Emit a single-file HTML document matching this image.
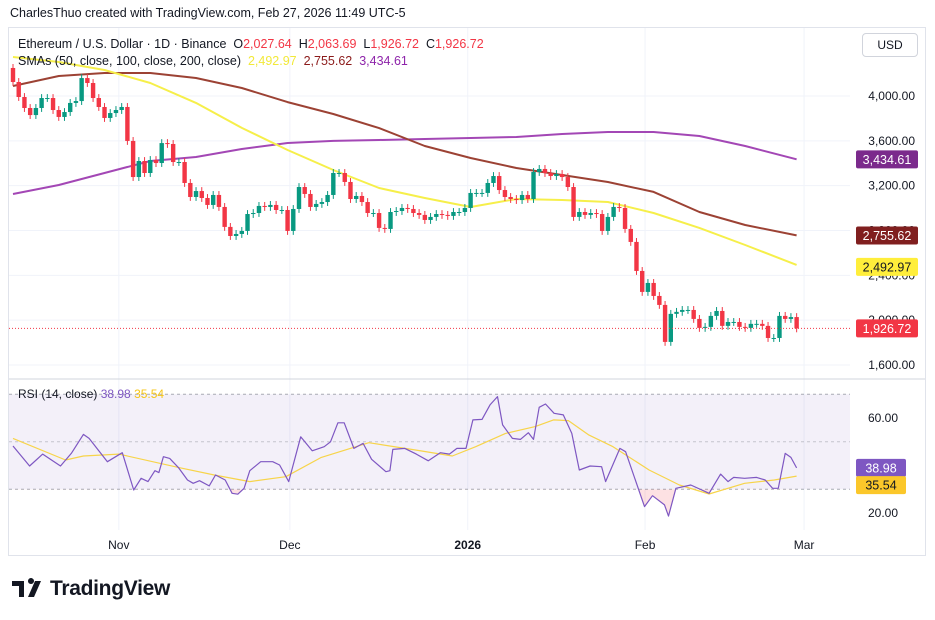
<!DOCTYPE html>
<html><head><meta charset="utf-8">
<style>
body{margin:0;background:#fff;font-family:"Liberation Sans",sans-serif;}
#wrap{position:relative;width:935px;height:620px;overflow:hidden;background:#fff}
.t{position:absolute;white-space:nowrap;font-size:12px;color:#131722}
</style></head><body>
<div id="wrap">
<div class="t" style="left:10px;top:6px;font-size:12.5px">CharlesThuo created with TradingView.com, Feb 27, 2026 11:49 UTC-5</div>
<svg id="svg" width="935" height="620" style="position:absolute;left:0;top:0"></svg>
<div class="t" style="left:18px;top:37px;font-size:12.5px">Ethereum / U.S. Dollar · 1D · Binance&nbsp; O<span style="color:#f23645">2,027.64</span>&nbsp; H<span style="color:#f23645">2,063.69</span>&nbsp; L<span style="color:#f23645">1,926.72</span>&nbsp; C<span style="color:#f23645">1,926.72</span></div>
<div class="t" style="left:18px;top:54px;font-size:12.5px">SMAs (50, close, 100, close, 200, close)&nbsp; <span style="color:#f2e93a">2,492.97</span>&nbsp; <span style="color:#8b1a1a">2,755.62</span>&nbsp; <span style="color:#8e24aa">3,434.61</span></div>
<div class="t" style="left:18px;top:387px;font-size:12px">RSI (14, close) <span style="color:#7e57c2">38.98</span> <span style="color:#f5c518">35.54</span></div>
<div class="t" style="left:862px;top:33px;width:54px;height:22px;border:1px solid #d1d4dc;border-radius:4px;line-height:22px;text-align:center;font-size:12px">USD</div>
<div style="position:absolute;left:12px;top:578px;">
<svg width="36" height="22" style="position:absolute;left:0;top:0"><path d="M0 3h12v16H7V8H0z M16 3a3 3 0 1 1 0 .1z M23 3h6l-7 16h-6z" fill="#131722"/></svg>
<div class="t" style="left:38px;top:-1px;font-size:21px;font-weight:bold;letter-spacing:-0.3px">TradingView</div>
</div>
</div>
<script>
const closes=[4125,3991,3893,3830,3893,3982,3982,3875,3813,3857,3938,3955,4160,4116,3982,3902,3804,3848,3875,3902,3599,3277,3420,3313,3429,3402,3580,3572,3411,3411,3224,3099,3152,
3090,3028,3117,3010,2832,2751,2769,2796,2947,2956,3019,3010,3028,2983,2983,2796,2992,3188,3126,3010,3037,3054,3117,3313,3313,3233,3081,3108,3054,2956,2956,2823,2814,2965,2974,3001,
2992,2956,2939,2894,2921,2947,2939,2930,2965,2965,3001,3135,3135,3135,3224,3286,3161,3099,3081,3072,3117,3081,3322,3349,3313,3286,3304,3277,3188,2921,2965,2939,2956,2947,2796,2921,3010,3001,2814,2698,2439,2252,2332,2216,2136,1806,2056,2074,2091,2091,2011,1931,1940,2038,2082,1949,1984,1984,1940,1931,1967,1967,1949,1841,1841,2038,2011,2027.64];
const lastClose=1926.72;
const firstOpen=4250;
const smaIdx=[0,8,16,24,32,40,48,56,64,72,80,88,96,104,112,120,128,137];
const sma50=[4348,4303,4232,4116,3938,3715,3518,3340,3179,3090,3010,3081,3072,3054,2956,2823,2671,2493];
const sma100=[4089,4178,4205,4205,4161,4071,3946,3839,3714,3554,3447,3358,3295,3233,3144,2965,2849,2756];
const sma200=[3126,3206,3313,3420,3456,3527,3581,3599,3607,3616,3625,3634,3661,3679,3679,3643,3554,3435];
const rsiIdx=[0,2.9,5.2,8.3,10.2,12.3,13.3,16.5,19.1,21.1,22.4,23.6,24.8,25.5,26.3,27.4,28.9,30.5,31.5,32.6,34.3,35.4,37.1,38.3,39.3,40.4,41.4,43.3,45.4,46.6,48.2,50.3,52.3,54.4,55.5,56.8,57.9,59.6,61.2,62.7,65.2,65.9,66.4,68.5,70.5,72.6,74.7,76.3,77.6,79.2,80.4,82.0,83.4,84.7,85.6,87.3,88.7,90.1,91.0,92.0,93.1,94.6,96.2,97.7,99.0,100.9,102.9,103.6,106.1,107.1,110.4,111.8,113.9,114.6,115.9,118.5,121.7,123.7,125.0,126.0,127.9,130.0,131.5,132.8,133.8,135,136,137];
const rsiVal=[48.2,39.8,44.8,39.8,45.1,53.1,51.4,41.6,45.4,29.7,34.6,33.2,37.8,37.0,43.7,43.0,39.2,33.9,32.5,33.6,31.4,36.0,33.9,28.3,27.9,30.4,37.8,41.6,41.6,40.2,33.2,52.1,46.2,47.9,50.0,58.0,58.0,47.2,49.3,42.6,37.4,37.8,46.8,47.2,44.8,42.0,45.4,44.8,47.2,47.2,59.2,59.4,65.5,69.0,57.1,51.4,51.0,53.8,51.0,64.5,65.9,62.0,61.3,53.5,38.1,39.8,39.5,33.2,47.2,45.8,22.7,27.3,23.4,18.7,30.4,31.8,28.3,36.4,33.2,35.0,34.6,35.0,33.9,30.4,30.4,45.1,43.4,38.98];
const maIdx=[0,9.2,12.3,18.5,28.9,35.2,41.4,47.7,53.9,62.2,70.5,76.8,80.9,86.1,91.3,94.5,97.1,100.7,104.9,111.2,116.5,121.7,127.9,133.1,137];
const maVal=[51.4,42.3,44.0,44.8,39.2,36.0,33.2,35.3,43.4,49.6,46.5,44.0,47.9,53.5,56.4,59.2,58.9,52.8,47.9,38.1,31.8,28.0,32.5,33.9,35.54];
const priceTicks=[4000,3600,3200,2800,2400,2000,1600];
const rsiTicks=[60,20];
const monthLabels=["Nov","Dec","2026","Feb","Mar"];
const monthIdx=[18.5,48.4,79.5,110.5,138.3];

const X0=13,DX=5.72;
const x=i=>X0+i*DX;
const yP=p=>96+(4000-p)*0.11208;
const yR=v=>418+(60-v)*2.375;
const svg=document.getElementById('svg');
const NS='http://www.w3.org/2000/svg';
function mk(tag,attrs,parent){const e=document.createElementNS(NS,tag);for(const k in attrs)e.setAttribute(k,attrs[k]);(parent||svg).appendChild(e);return e;}
let panel=mk('rect',{x:8.5,y:27.5,width:917,height:528,fill:'none',stroke:'#e0e3eb'});


priceTicks.forEach(p=>{let g=mk('line',{x1:9,x2:850,y1:yP(p),y2:yP(p),stroke:'#f0f3fa'});

});
monthIdx.forEach(m=>{let g=mk('line',{x1:x(m),x2:x(m),y1:28,y2:530,stroke:'#f0f3fa'});

});
let sep=mk('line',{x1:9,x2:925,y1:379,y2:379,stroke:'#d1d4dc'});


let band=mk('rect',{x:9,y:yR(70),width:841,height:yR(30)-yR(70),fill:'#7e57c2','fill-opacity':0.09});


[70,50,30].forEach(v=>{let l=mk('line',{x1:9,x2:850,y1:yR(v),y2:yR(v),stroke:'#9598a1','stroke-dasharray':'3,3','stroke-opacity':v==50?0.5:0.8});

});
function line(idx,vals,ys,color,w,name){let d=idx.map((k,j)=>(j?'L':'M')+x(k).toFixed(1)+','+ys(vals[j]).toFixed(1)).join('');
let p=mk('path',{d:d,fill:'none',stroke:color,'stroke-width':w,'stroke-linejoin':'round'});

return d;}
line(smaIdx,sma200,yP,'#a347b5',2,'sma-200-line');
line(smaIdx,sma100,yP,'#9c4234',2,'sma-100-line');
line(smaIdx,sma50,yP,'#f6ef4a',2,'sma-50-line');
const allC=closes.concat([lastClose]);
allC.forEach((c,i)=>{const o=i?allC[i-1]:firstOpen;const up=c>=o;const col=up?'#089981':'#f23645';
const hi=Math.max(o,c)+35,lo=Math.min(o,c)-35;
let wk=mk('line',{x1:x(i),x2:x(i),y1:yP(hi),y2:yP(lo),stroke:col,'stroke-width':1});


const t=yP(Math.max(o,c)),b=yP(Math.min(o,c));
let r=mk('rect',{x:x(i)-2.2,y:t,width:4.4,height:Math.max(1,b-t),fill:col});

});
let pl=mk('line',{x1:9,x2:850,y1:yP(lastClose),y2:yP(lastClose),stroke:'#f23645','stroke-dasharray':'1,2','stroke-width':1});


const defs=mk('defs',{});const cp=mk('clipPath',{id:'below30'},defs);mk('rect',{x:0,y:yR(30),width:850,height:60},cp);
const rd=line(rsiIdx,rsiVal,yR,'none',0,'rsi-hidden');
let os=mk('path',{d:rd+'L'+x(137)+','+yR(30)+'L'+x(0)+','+yR(30)+'Z',fill:'#f23645','fill-opacity':0.15,'clip-path':'url(#below30)'});


line(maIdx,maVal,yR,'#f7d44a',1.2,'rsi-ma-line');
line(rsiIdx,rsiVal,yR,'#7e57c2',1.2,'rsi-line');
function txt(s,X,Y,opt){let e=mk('text',Object.assign({x:X,y:Y,'font-size':12,'font-family':'Liberation Sans, sans-serif',fill:'#131722'},opt||{}));e.textContent=s;return e;}
priceTicks.forEach(p=>{let e=txt(p.toLocaleString('en-US',{minimumFractionDigits:2}),915,yP(p)+4,{'text-anchor':'end'});

});
rsiTicks.forEach(v=>{let e=txt(v.toFixed(2),898,yR(v)+4,{'text-anchor':'end'});

});
monthLabels.forEach((m,j)=>{let e=txt(m,x(monthIdx[j]),549,{'text-anchor':'middle','font-weight':m=='2026'?'bold':'normal'});

});
function tag(v,Y,bg,fg,name,w){let g=mk('g',{});
mk('rect',{x:856,y:Y-9,width:w||62,height:18,fill:bg,rx:2},g);
let t=mk('text',{x:(856+(w||62)/2),y:Y+4.5,'text-anchor':'middle','font-size':12.5,'font-family':'Liberation Sans, sans-serif',fill:fg},g);t.textContent=v;}
tag('3,434.61',yP(3434.61),'#7b2a8c','#fff','sma-200-price-tag');
tag('2,755.62',yP(2755.62),'#801f1f','#fff','sma-100-price-tag');
tag('2,492.97',yP(2492.97)+2,'#ffee3b','#131722','sma-50-price-tag');
tag('1,926.72',yP(1926.72),'#f23645','#fff','last-price-tag');
tag('38.98',yR(38.98),'#7e57c2','#fff','rsi-value-tag',50);
tag('35.54',yR(35.54)+9,'#fbc72a','#131722','rsi-ma-value-tag',50);
</script>
</body></html>
